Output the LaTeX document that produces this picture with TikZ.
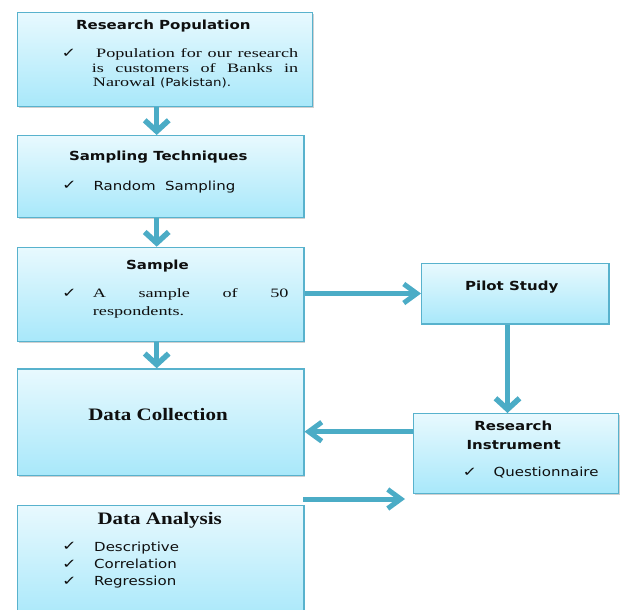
\documentclass[tikz,border=0pt]{standalone}
\usepackage{fontspec}
\setmainfont{Liberation Serif}
\newfontfamily\sansf[FakeStretch=1.2]{DejaVu Sans}
\newfontfamily\serifb[FakeStretch=1.2]{Liberation Serif}
\newfontfamily\serifr[FakeStretch=1.42]{Liberation Serif}
\newfontfamily\chkfont{DejaVu Sans}
\usetikzlibrary{arrows.meta,shadows}
\definecolor{acc}{RGB}{75,172,198}
\definecolor{bordc}{RGB}{88,178,205}
\definecolor{topc}{RGB}{232,249,254}
\definecolor{botc}{RGB}{168,232,250}
\definecolor{txt}{RGB}{15,15,15}
\newcommand{\chk}{{\chkfont\fontsize{12}{14}\selectfont\scalebox{1.45}[1.1]{\char"2713}}}
\begin{document}
\begin{tikzpicture}[x=1pt,y=-1pt,
  box/.style={draw=bordc, line width=1.2pt, top color=topc, bottom color=botc,
    inner sep=0pt, anchor=north west,
    drop shadow={shadow xshift=1.5pt, shadow yshift=-1.5pt, opacity=0.3, fill=black!60}},
  vflow/.style={draw=acc, line width=5.5pt, -{Straight Barb[length=11pt,width=24pt]}},
  hflow/.style={draw=acc, line width=5pt, -{Straight Barb[length=13pt,width=19pt]}},
  ttl/.style={anchor=base, inner sep=0pt, text=txt, font=\sansf\bfseries\fontsize{12.5}{15}\selectfont},
  sttl/.style={anchor=base, inner sep=0pt, text=txt, font=\serifb\bfseries\fontsize{17.5}{20}\selectfont},
  sbody/.style={anchor=base west, inner sep=0pt, text=txt, font=\sansf\fontsize{12.5}{15}\selectfont},
  rbody/.style={anchor=base west, inner sep=0pt, text=txt, font=\serifr\fontsize{12.8}{15}\selectfont},
  ck/.style={anchor=base west, inner sep=0pt, text=txt}
]
\fill[white] (0,0) rectangle (622,610);
\path[use as bounding box] (0,0) rectangle (622,610);
\clip (0,0) rectangle (622,610);

% boxes
\node[box, minimum width=295pt, minimum height=94.3pt] (b1) at (16.7,11.7) {};
\node[box, minimum width=286.6pt, minimum height=81.7pt] (b2) at (16.7,135) {};
\node[box, minimum width=286.6pt, minimum height=94pt] (b3) at (16.7,246.7) {};
\node[box, minimum width=286.6pt, minimum height=106.7pt] (b4) at (16.7,368.3) {};
\node[box, minimum width=286.6pt, minimum height=115pt] (b5) at (16.7,505) {};
\node[box, minimum width=187.3pt, minimum height=60.6pt] (pl) at (421,262.7) {};
\node[box, minimum width=205.3pt, minimum height=80pt] (ri) at (412.7,413) {};

% box 1
\node[ttl] (t1) at (163.3,29.3) {Research Population};
\node[ck] (c1) at (61.5,57.5) {\chk};
\node[rbody] (l11) at (96,58) {\makebox[202pt][s]{Population for our research}};
\node[rbody] (l12) at (91.7,72.5) {\makebox[206.3pt][s]{is customers of Banks in}};
\node[rbody] (l13) at (92.7,87) {Narowal {\sansf\fontsize{11.2}{12}\selectfont(Pakistan).}};

% box 2
\node[ttl] (t2) at (158.3,160.7) {Sampling Techniques};
\node[ck] (c2) at (62,189.5) {\chk};
\node[sbody] (l21) at (93.3,190) {Random\ \ Sampling};

% box 3
\node[ttl] (t3) at (157.5,269) {Sample};
\node[ck] (c3) at (62,297) {\chk};
\node[rbody] (l31) at (92.7,297.7) {\makebox[195.6pt][s]{A sample of 50}};
\node[rbody] (l32) at (92.7,315) {respondents.};

% box 4
\node[sttl] (t4) at (158,420.7) {Data Collection};

% box 5
\node[sttl] (t5) at (159.7,524.3) {Data Analysis};
\node[ck] (c51) at (62,550.5) {\chk};
\node[sbody] (l51) at (94,551) {Descriptive};
\node[ck] (c52) at (62,568) {\chk};
\node[sbody] (l52) at (94,568.3) {Correlation};
\node[ck] (c53) at (62,585.5) {\chk};
\node[sbody] (l53) at (94,585.7) {Regression};

% pilot
\node[ttl] (tp) at (511.7,290) {Pilot Study};

% research instrument
\node[ttl] (tr1) at (513.3,430) {Research};
\node[ttl] (tr2) at (513.7,449.3) {Instrument};
\node[ck] (cr) at (462.5,476.5) {\chk};
\node[sbody] (lr) at (493.3,476.7) {Questionnaire};

% connectors
\coordinate (dx) at (156.7,0);
\coordinate (hy) at (0,293.5);
\coordinate (vx) at (507.5,0);
\coordinate (ry) at (0,431.7);
\coordinate (fs) at (303.3,499);
\coordinate (fe) at (405,499);
\draw[vflow] (b1.south -| dx) -- (b2.north -| dx);
\draw[vflow] (b2.south -| dx) -- (b3.north -| dx);
\draw[vflow] (b3.south -| dx) -- (b4.north -| dx);
\draw[hflow] (b3.east |- hy) -- (pl.west |- hy);
\draw[vflow] (pl.south -| vx) -- (ri.north -| vx);
\draw[hflow] (ri.west |- ry) -- (b4.east |- ry);
\draw[hflow] (fs) -- (fe);
\end{tikzpicture}
\end{document}
